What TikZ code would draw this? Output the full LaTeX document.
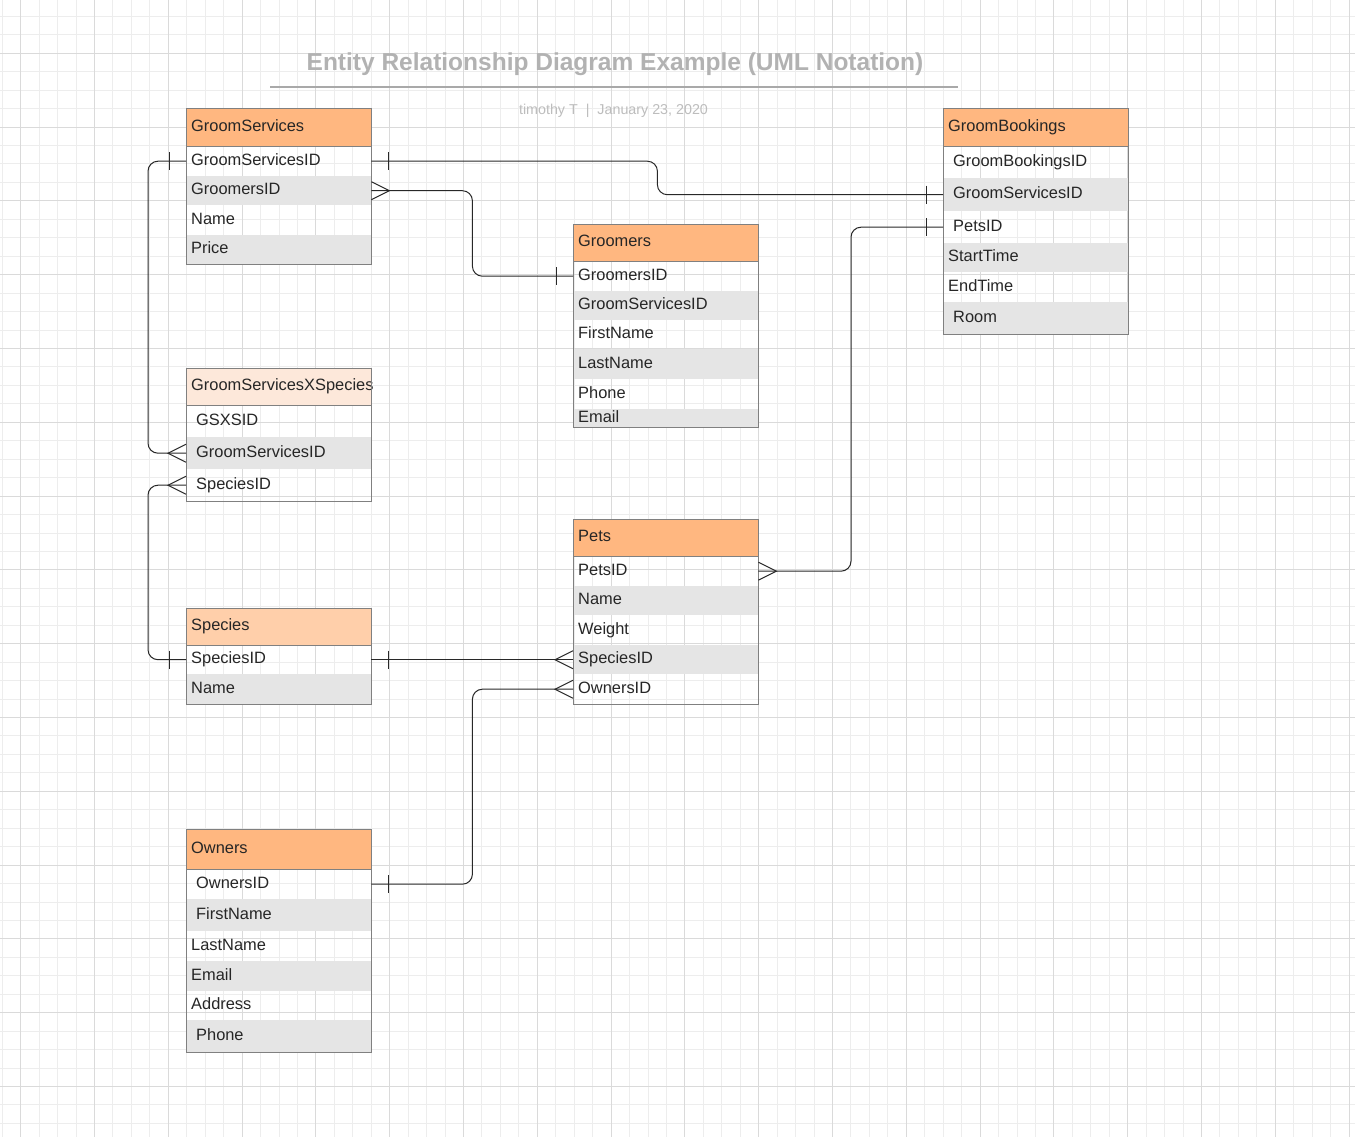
\documentclass[tikz,border=0pt]{standalone}
\usepackage{fontspec}
\setmainfont{Liberation Sans}

\definecolor{headorange}{RGB}{255,183,128}
\definecolor{headpeach}{RGB}{255,207,170}
\definecolor{headpale}{RGB}{253,232,218}
\definecolor{rowgray}{RGB}{229,229,229}
\definecolor{edgegray}{RGB}{128,128,128}
\definecolor{gridminor}{RGB}{237,237,237}
\definecolor{gridmajor}{RGB}{218,218,218}
\definecolor{titlegray}{RGB}{178,178,178}
\definecolor{linkcol}{RGB}{40,40,40}

\tikzset{
  cell/.style={rectangle,anchor=north west,minimum width=185pt,text width=175pt,
    align=left,inner xsep=5pt,inner ysep=0pt,text height=12pt,text depth=4pt,
    font=\fontsize{16.4}{19}\selectfont,text=black!85},
  head/.style={cell,fill=headorange,minimum height=37pt},
  grey/.style={fill=rowgray},
  ind/.style={execute at begin node=\hspace*{5pt}},
  tablebox/.style={draw=edgegray,line width=1pt},
  rel/.style={draw=linkcol,line width=1pt},
}

\begin{document}
\begin{tikzpicture}[x=1pt,y=-1pt]
  \useasboundingbox (0,0) rectangle (1355,1137);
  \fill[white] (0,0) rectangle (1355,1137);
  % grid
  \foreach \i in {0,...,73} \draw[gridminor,line width=1pt] ({2.25+18.45*\i},0) -- ++(0,1137);
  \foreach \i in {0,...,61} \draw[gridminor,line width=1pt] (0,{-2.05+18.45*\i}) -- ++(1355,0);
  \foreach \i in {0,...,18} \draw[gridmajor,line width=1pt] ({20.7+73.8*\i},0) -- ++(0,1137);
  \foreach \i in {0,...,15} \draw[gridmajor,line width=1pt] (0,{-20.5+73.8*\i}) -- ++(1355,0);

  \node[anchor=base,text=titlegray,font=\fontsize{24.5}{28}\selectfont\bfseries] (title) at (615,71)
    {Entity Relationship Diagram Example (UML Notation)};
  \draw[titlegray!95!black,line width=2pt] (270,87.5) -- (958,87.5);
  \node[anchor=base,text=titlegray!85,font=\fontsize{14.3}{17}\selectfont] (byline) at (613.5,114.7)
    {timothy T\ \ |\ \ January 23, 2020};

  % GroomServices
  \node[head] (gsHead) at (186,109) {GroomServices};
  \node[cell,minimum height=30pt] (gsID) at (186,146) {GroomServicesID};
  \node[cell,grey,minimum height=29pt] (gsGroomers) at (186,176) {GroomersID};
  \node[cell,minimum height=30pt] (gsName) at (186,205) {Name};
  \node[cell,grey,minimum height=29pt] (gsPrice) at (186,235) {Price};
  \draw[tablebox] (gsHead.north west) rectangle (gsPrice.south east);
  \draw[tablebox] (gsHead.south west) -- (gsHead.south east);

  % Groomers
  \node[head] (grHead) at (573,224) {Groomers};
  \node[cell,minimum height=30pt] (grID) at (573,261) {GroomersID};
  \node[cell,grey,minimum height=29pt] (grServ) at (573,291) {GroomServicesID};
  \node[cell,minimum height=29pt] (grFirst) at (573,320) {FirstName};
  \node[cell,grey,minimum height=30pt] (grLast) at (573,349) {LastName};
  \node[cell,minimum height=30pt] (grPhone) at (573,379) {Phone};
  \node[cell,grey,minimum height=18pt] (grEmail) at (573,409) {Email};
  \draw[tablebox] (grHead.north west) rectangle (grEmail.south east);
  \draw[tablebox] (grHead.south west) -- (grHead.south east);

  % GroomBookings
  \node[head] (gbHead) at (943,109) {GroomBookings};
  \node[cell,ind,minimum height=32pt] (gbID) at (943,146) {GroomBookingsID};
  \node[cell,ind,grey,minimum height=33pt] (gbServ) at (943,178) {GroomServicesID};
  \node[cell,ind,minimum height=32pt] (gbPets) at (943,211) {PetsID};
  \node[cell,grey,minimum height=29pt] (gbStart) at (943,243) {StartTime};
  \node[cell,minimum height=30pt] (gbEnd) at (943,272) {EndTime};
  \node[cell,ind,grey,minimum height=32pt] (gbRoom) at (943,302) {Room};
  \draw[tablebox] (gbHead.north west) rectangle (gbRoom.south east);
  \draw[tablebox] (gbHead.south west) -- (gbHead.south east);

  % GroomServicesXSpecies
  \node[head,fill=headpale,inner xsep=4pt] (gxHead) at (186,368) {GroomServicesXSpecies};
  \node[cell,ind,minimum height=32pt] (gxID) at (186,405) {GSXSID};
  \node[cell,ind,grey,minimum height=32pt] (gxServ) at (186,437) {GroomServicesID};
  \node[cell,ind,minimum height=32pt] (gxSpec) at (186,469) {SpeciesID};
  \draw[tablebox] (gxHead.north west) rectangle (gxSpec.south east);
  \draw[tablebox] (gxHead.south west) -- (gxHead.south east);

  % Species
  \node[head,fill=headpeach,inner xsep=4pt] (spHead) at (186,608) {Species};
  \node[cell,minimum height=29pt] (spID) at (186,645) {SpeciesID};
  \node[cell,grey,minimum height=30pt] (spName) at (186,674) {Name};
  \draw[tablebox] (spHead.north west) rectangle (spName.south east);
  \draw[tablebox] (spHead.south west) -- (spHead.south east);

  % Pets
  \node[head] (ptHead) at (573,519) {Pets};
  \node[cell,minimum height=30pt] (ptPetsID) at (573,556) {PetsID};
  \node[cell,grey,minimum height=29pt] (ptName) at (573,586) {Name};
  \node[cell,minimum height=30pt] (ptWeight) at (573,615) {Weight};
  \node[cell,grey,minimum height=29pt] (ptSpec) at (573,645) {SpeciesID};
  \node[cell,minimum height=30pt] (ptOwn) at (573,674) {OwnersID};
  \draw[tablebox] (ptHead.north west) rectangle (ptOwn.south east);
  \draw[tablebox] (ptHead.south west) -- (ptHead.south east);

  % Owners
  \node[head,minimum height=40pt,inner xsep=4pt] (owHead) at (186,829) {Owners};
  \node[cell,ind,minimum height=30pt] (owID) at (186,869) {OwnersID};
  \node[cell,ind,grey,minimum height=32pt] (owFirst) at (186,899) {FirstName};
  \node[cell,minimum height=30pt] (owLast) at (186,931) {LastName};
  \node[cell,grey,minimum height=30pt] (owEmail) at (186,961) {Email};
  \node[cell,minimum height=29pt] (owAddr) at (186,991) {Address};
  \node[cell,ind,grey,minimum height=32pt] (owPhone) at (186,1020) {Phone};
  \draw[tablebox] (owHead.north west) rectangle (owPhone.south east);
  \draw[tablebox] (owHead.south west) -- (owHead.south east);

  % relations
  \draw[rel,rounded corners=10pt] (gsID.east) -- ++(286,0) |- (gbServ.west);
  \draw[rel,rounded corners=10pt] (gsGroomers.east) -- ++(101,0) |- (grID.west);
  \draw[rel,rounded corners=10pt] (gbPets.west) -- ++(-92,0) |- (ptPetsID.east);
  \draw[rel,rounded corners=10pt] (gsID.west) -- ++(-38,0) |- (gxServ.west);
  \draw[rel,rounded corners=10pt] (gxSpec.west) -- ++(-38,0) |- (spID.west);
  \draw[rel] (spID.east) -- (ptSpec.west);
  \draw[rel,rounded corners=10pt] (owID.east) -- ++(101,0) |- (ptOwn.west);

  % one marks and crow's feet
  \foreach \p in {gsID.east,spID.east,owID.east}
    \draw[rel] (\p) ++(17,-9) -- ++(0,18);
  \foreach \p in {gsID.west,spID.west,grID.west,gbServ.west,gbPets.west}
    \draw[rel] (\p) ++(-17,-9) -- ++(0,18);
  \foreach \p in {gsGroomers.east,ptPetsID.east}
    \draw[rel] (\p) ++(0,-9) -- ++(18,9) -- ++(-18,9);
  \foreach \p in {gxServ.west,gxSpec.west,ptSpec.west,ptOwn.west}
    \draw[rel] (\p) ++(0,-9) -- ++(-18,9) -- ++(18,9);
\end{tikzpicture}
\end{document}
